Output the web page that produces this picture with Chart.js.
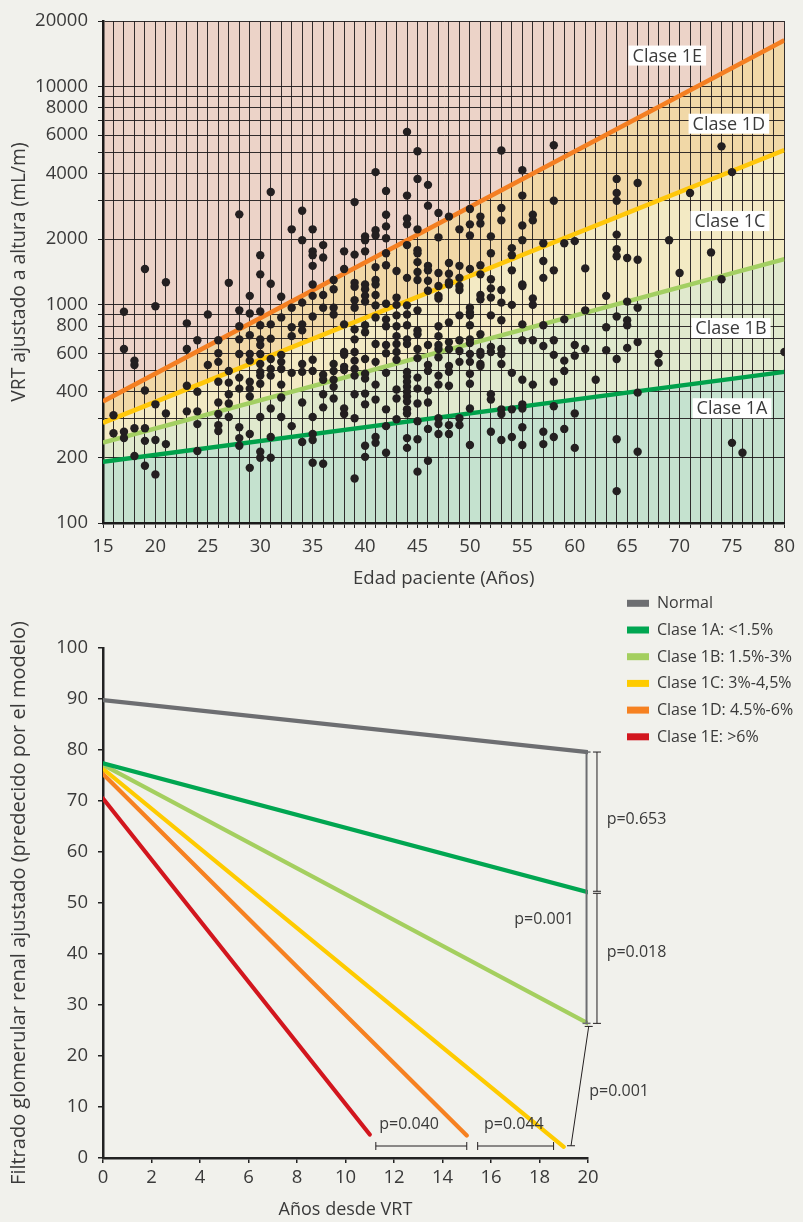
<!DOCTYPE html>
<html><head><meta charset="utf-8">
<script src="https://cdn.jsdelivr.net/npm/chart.js@4.4.0/dist/chart.umd.min.js"></script>
<style>
html,body{margin:0;padding:0;background:#f1f1ec;}
#wrap{position:relative;width:803px;height:1222px;overflow:hidden;background:#f1f1ec;}
#c1{position:absolute;left:0;top:0;}
#c2{position:absolute;left:0;top:585px;}
</style></head><body>
<div id="wrap"><canvas id="c1" width="803" height="600"></canvas><canvas id="c2" width="803" height="637"></canvas></div>
<script>
// ---------- Top chart data (VRT ajustado a altura vs edad) ----------
const scatterAges = [16,17,18,19,20,21,23,24,25,26,27,28,29,30,31,32,33,34,35,36,37,38,39,40,41,42,43,44,45,46,47,48,49,50,51,52,53,54,55,56,57,58,59,60,61,62,63,64,65,66,68,69,70,71,73,74,75,76,80];
const scatterValues = [
 [312,258],
 [930,628,262,245],
 [555,530,272,203],
 [1460,405,272,238,183],
 [985,350,240,167],
 [1270,318,230],
 [823,628,426,325],
 [688,400,325,284,214],
 [904,530],
 [688,600,548,444,357,316,281,264],
 [1262,498,440,389,353,306],
 [2600,944,798,695,595,464,413,275,245,226],
 [1100,913,726,595,555,444,413,380,256,179],
 [1690,1380,933,806,695,655,595,536,493,474,435,306,212,199],
 [3290,1250,814,700,565,508,474,335,248,199],
 [1090,876,590,548,508,431,376,306],
 [2220,970,790,719,488,278],
 [2700,1980,1024,814,764,536,493,357,235],
 [2220,1760,1690,1510,1240,1100,885,560,498,306,256,240,189],
 [1880,1650,1110,970,478,454,389,339,187],
 [1300,1180,970,904,536,498,454,421,372],
 [1760,1460,814,608,590,520,503,335,316],
 [2960,1700,1262,1210,1050,970,772,695,608,555,508,474,389,302,160],
 [2060,1980,1760,1240,1180,1100,1035,806,749,565,483,459,392,350,226,201],
 [4060,2200,2080,1490,1300,1240,1110,995,876,662,548,431,368,248,233],
 [3330,2590,2290,2020,1726,1520,1012,858,798,655,600,488,332,278,210],
 [1430,1080,1000,895,798,719,662,608,560,409,372,299],
 [6210,3170,2490,2340,1880,1330,995,904,806,695,662,493,469,444,421,400,380,361,332,318,245,221],
 [5060,3780,2220,1780,1726,1570,1415,1300,944,764,734,628,570,464,413,353,293,242,172],
 [3550,2850,1510,1440,1290,1160,655,530,498,405,357,270,193],
 [2640,2040,1400,1220,1100,1070,798,719,655,628,575,474,431,302,284,256],
 [2540,1555,1390,1270,1240,831,675,628,525,493,426,281,256],
 [2220,1510,1330,1220,1170,895,688,615,548,302,281],
 [2750,2340,2080,1460,970,923,895,806,695,668,595,548,483,435,335,228],
 [2540,2360,1520,1380,1110,1060,734,608,590,536,525],
 [2060,1726,1310,1190,1080,895,641,608,389,368,262],
 [5100,2780,2440,1170,1024,850,628,595,536,332,316,240],
 [1820,1690,1440,1000,488,332,248],
 [4140,3170,2310,1980,1240,1220,814,688,454,350,335,275,228],
 [2590,2440,1070,1000,688,431],
 [1916,1590,1330,806,648,262,230],
 [5390,3000,1440,688,590,444,343,248],
 [1916,858,555,498,270],
 [1960,655,585,318,221],
 [1470,944,628],
 [454],
 [1100,790,620],
 [3780,3260,3000,2100,1800,1670,885,565,242,140],
 [1640,1035,850,806,635],
 [3620,1610,970,675,396,212],
 [595,542],
 [1980],
 [1400],
 [3260],
 [1740],
 [5330,1310],
 [4060,233],
 [210],
 [608]
];
const classLineAges = [15, 80];
const class1A = [191, 493];
const class1B = [234, 1620];
const class1C = [288, 5120];
const class1D = [361, 16350];
const vrtGridValues = [100,200,300,400,500,600,700,800,900,1000,2000,3000,4000,5000,6000,7000,8000,9000,10000,20000];
const vrtLabelValues = [100,200,400,600,800,1000,2000,4000,6000,8000,10000,20000];
const bandLabelTexts = ['Clase 1E','Clase 1D','Clase 1C','Clase 1B','Clase 1A'];
const bandLabelAges = [68.83, 74.7, 74.8, 74.9, 75.0];
const bandLabelValues = [13900, 6770, 2423, 783, 336];

// ---------- Bottom chart data (filtrado glomerular vs años) ----------
const gfrLabels = ['Normal','Clase 1A: <1.5%','Clase 1B: 1.5%-3%','Clase 1C: 3%-4,5%','Clase 1D: 4.5%-6%','Clase 1E: >6%'];
const gfrYears = [[0,20],[0,20],[0,20],[0,19.0],[0,15.0],[0,11.0]];
const gfrValues = [[89.8,79.6],[77.4,52.1],[77.1,26.4],[76.3,2.2],[75.3,4.4],[70.5,4.6]];
const pTexts = ['p=0.653','p=0.018','p=0.001','p=0.001','p=0.040','p=0.044'];
const pYears = [20.77,20.77,16.96,20.05,11.39,15.71];
const pGfr = [66.4,40.25,46.8,13.0,6.5,6.5];

// ---------- styling ----------
const FONT = "'Open Sans', 'Noto Sans', sans-serif";
Chart.defaults.font.family = FONT;
Chart.defaults.font.weight = 'normal';
Chart.defaults.color = '#3a3a3a';
const TXT = '#3a3a3a';
const gridColor = 'rgba(30,26,27,0.9)';
const lineColors = ['#00a14b','#a3cf62','#ffc709','#f47f22'];
const bandColors = ['#c5e2cf','#e0e9cd','#f3eac4','#f1d8a7','#ecd3c8'];
const gfrColors = ['#6d6e71','#00a651','#a4cf5f','#fecb00','#f68121','#d2161e'];

const ptData = [];
scatterAges.forEach((a,i)=>scatterValues[i].forEach(v=>ptData.push({x:a,y:v})));
const linePts = arr => classLineAges.map((a,i)=>({x:a,y:arr[i]}));
const classLines = [class1A,class1B,class1C,class1D];

const topDatasets = [{label:'VRT', data:ptData, backgroundColor:'#231f20', borderWidth:0, pointRadius:4.2, pointHoverRadius:4.2}];
classLines.forEach((arr,i)=>topDatasets.push({
  label:'line'+i, data:linePts(arr), showLine:true, borderColor:lineColors[i], borderWidth:4.5,
  pointRadius:0, fill: i===0 ? 'start' : '-1', backgroundColor:bandColors[i]
}));
topDatasets.push({label:'top', data:linePts(class1D), showLine:true, borderWidth:0, borderColor:'rgba(0,0,0,0)', pointRadius:0, fill:'end', backgroundColor:bandColors[4]});

const bandLabelPlugin = {
  id:'bandLabels',
  afterDatasetsDraw(chart){
    const {ctx, scales:{x,y}} = chart;
    ctx.save();
    ctx.font = `18px ${FONT}`;
    ctx.textAlign='center'; ctx.textBaseline='middle';
    bandLabelTexts.forEach((t,i)=>{
      const cx = x.getPixelForValue(bandLabelAges[i]);
      const cy = y.getPixelForValue(bandLabelValues[i]);
      const w = ctx.measureText(t).width;
      ctx.fillStyle='#ffffff';
      ctx.fillRect(cx-w/2-4, cy-10, w+8, 20);
      ctx.fillStyle=TXT;
      ctx.fillText(t, cx, cy+1);
    });
    ctx.restore();
  }
};

new Chart(document.getElementById('c1'), {
  type:'scatter',
  data:{datasets:topDatasets},
  options:{
    responsive:false, animation:false, events:[],
    layout:{padding:{top:15,right:13,left:0,bottom:0}},
    plugins:{legend:{display:false}, tooltip:{enabled:false}, filler:{drawTime:'beforeDraw'}},
    scales:{
      x:{type:'linear', min:15, max:80,
        ticks:{stepSize:1, autoSkip:false, maxRotation:0, padding:8, color:TXT, font:{size:18.5}, callback:v=> (v%5===0 ? String(v) : '')},
        grid:{color:gridColor, lineWidth:1, tickLength:5, tickColor:'#222'},
        border:{color:'#1a1a1a', width:2.5},
        title:{display:true, text:'Edad paciente (Años)', color:TXT, font:{size:18.6}, padding:{top:0,bottom:10}},
        afterFit:s=>{s.height=77;}
      },
      y:{type:'logarithmic', min:100, max:20000,
        afterBuildTicks:s=>{s.ticks = vrtGridValues.map(v=>({value:v}));},
        ticks:{autoSkip:false, padding:10, color:TXT, font:{size:18.5}, callback:v=> (vrtLabelValues.includes(v) ? String(v) : '')},
        grid:{color:gridColor, lineWidth:1, tickLength:5, tickColor:'#222'},
        border:{color:'#1a1a1a', width:2.5},
        title:{display:true, text:'VRT ajustado a altura (mL/m)', color:TXT, font:{size:19.3}, padding:{top:8,bottom:0}},
        afterFit:s=>{s.width=103;}
      }
    }
  },
  plugins:[bandLabelPlugin]
});

// ---------- bottom chart ----------
const bottomDatasets = gfrLabels.map((lab,i)=>({
  label:lab, data:gfrYears[i].map((yr,j)=>({x:yr,y:gfrValues[i][j]})), showLine:true,
  borderColor:gfrColors[i], backgroundColor:gfrColors[i], borderWidth:4.2, borderCapStyle:'round', pointRadius:0, fill:false
}));

const annotPlugin = {
  id:'annot',
  afterDatasetsDraw(chart){
    const {ctx, scales:{x,y}, chartArea} = chart;
    const X=v=>x.getPixelForValue(v), Y=v=>y.getPixelForValue(v);
    const seg=(x1,y1,x2,y2)=>{ctx.beginPath();ctx.moveTo(x1,y1);ctx.lineTo(x2,y2);ctx.stroke();};
    ctx.save();
    // grey vertical reference line at year 20
    ctx.strokeStyle='#6d6e71'; ctx.lineWidth=2;
    const gx = X(19.94);
    seg(gx,Y(79.6),gx,Y(26.4));
    ctx.lineWidth=1.5;
    seg(gx-4,Y(79.6),gx+4,Y(79.6));
    seg(gx-4,Y(26.4),gx+4,Y(26.4));
    // black vertical brackets
    ctx.strokeStyle='#231f20'; ctx.lineWidth=1;
    const bx = X(20.37);
    const vb=(a,b)=>{seg(bx,Y(a),bx,Y(b));seg(bx-4,Y(a),bx+4,Y(a));seg(bx-4,Y(b),bx+4,Y(b));};
    vb(79.6,52.3); vb(51.9,26.4);
    // diagonal bracket
    const d1x=X(20.03), d1y=Y(25.8), d2x=X(19.3), d2y=Y(2.4);
    seg(d1x,d1y,d2x,d2y); seg(d1x-4,d1y,d1x+4,d1y); seg(d2x-4,d2y,d2x+4,d2y);
    // horizontal brackets
    const hb=(a,b,v)=>{seg(X(a),Y(v),X(b),Y(v));seg(X(a),Y(v)-4,X(a),Y(v)+4);seg(X(b),Y(v)-4,X(b),Y(v)+4);};
    hb(11.25,15.0,2.35); hb(15.45,18.58,2.35);
    // p labels
    ctx.fillStyle=TXT; ctx.font=`16px ${FONT}`; ctx.textAlign='left'; ctx.textBaseline='middle';
    pTexts.forEach((t,i)=>ctx.fillText(t, X(pYears[i]), Y(pGfr[i])));
    // legend
    ctx.font=`16px ${FONT}`;
    chart.data.datasets.forEach((ds,i)=>{
      const lx = chartArea.right + 39, ly = chartArea.top - 44.7 + i*26.7;
      ctx.fillStyle=ds.borderColor; ctx.fillRect(lx, ly-3.5, 22, 7);
      ctx.fillStyle=TXT; ctx.fillText(ds.label, lx+30, ly+0.5);
    });
    ctx.restore();
  }
};

new Chart(document.getElementById('c2'), {
  type:'scatter',
  data:{datasets:bottomDatasets},
  options:{
    responsive:false, animation:false, events:[],
    layout:{padding:{top:63,right:215,left:0,bottom:0}},
    plugins:{legend:{display:false}, tooltip:{enabled:false}},
    scales:{
      x:{type:'linear', min:0, max:20,
        ticks:{stepSize:2, autoSkip:false, maxRotation:0, padding:4, color:TXT, font:{size:18.5}},
        grid:{drawOnChartArea:false, tickLength:5, tickColor:'#222', lineWidth:1.5},
        border:{color:'#222', width:2.5},
        title:{display:true, text:'Años desde VRT', color:TXT, font:{size:18}, padding:{top:0,bottom:1}},
        afterFit:s=>{s.height=64;}
      },
      y:{type:'linear', min:0, max:100,
        ticks:{stepSize:10, padding:10, color:TXT, font:{size:18.5}},
        grid:{drawOnChartArea:false, tickLength:5, tickColor:'#222', lineWidth:1.5},
        border:{color:'#222', width:2.5},
        title:{display:true, text:'Filtrado glomerular renal ajustado (predecido por el modelo)', color:TXT, font:{size:20}, padding:{top:7,bottom:0}},
        afterFit:s=>{s.width=103;}
      }
    }
  },
  plugins:[annotPlugin]
});
</script>
</body></html>
